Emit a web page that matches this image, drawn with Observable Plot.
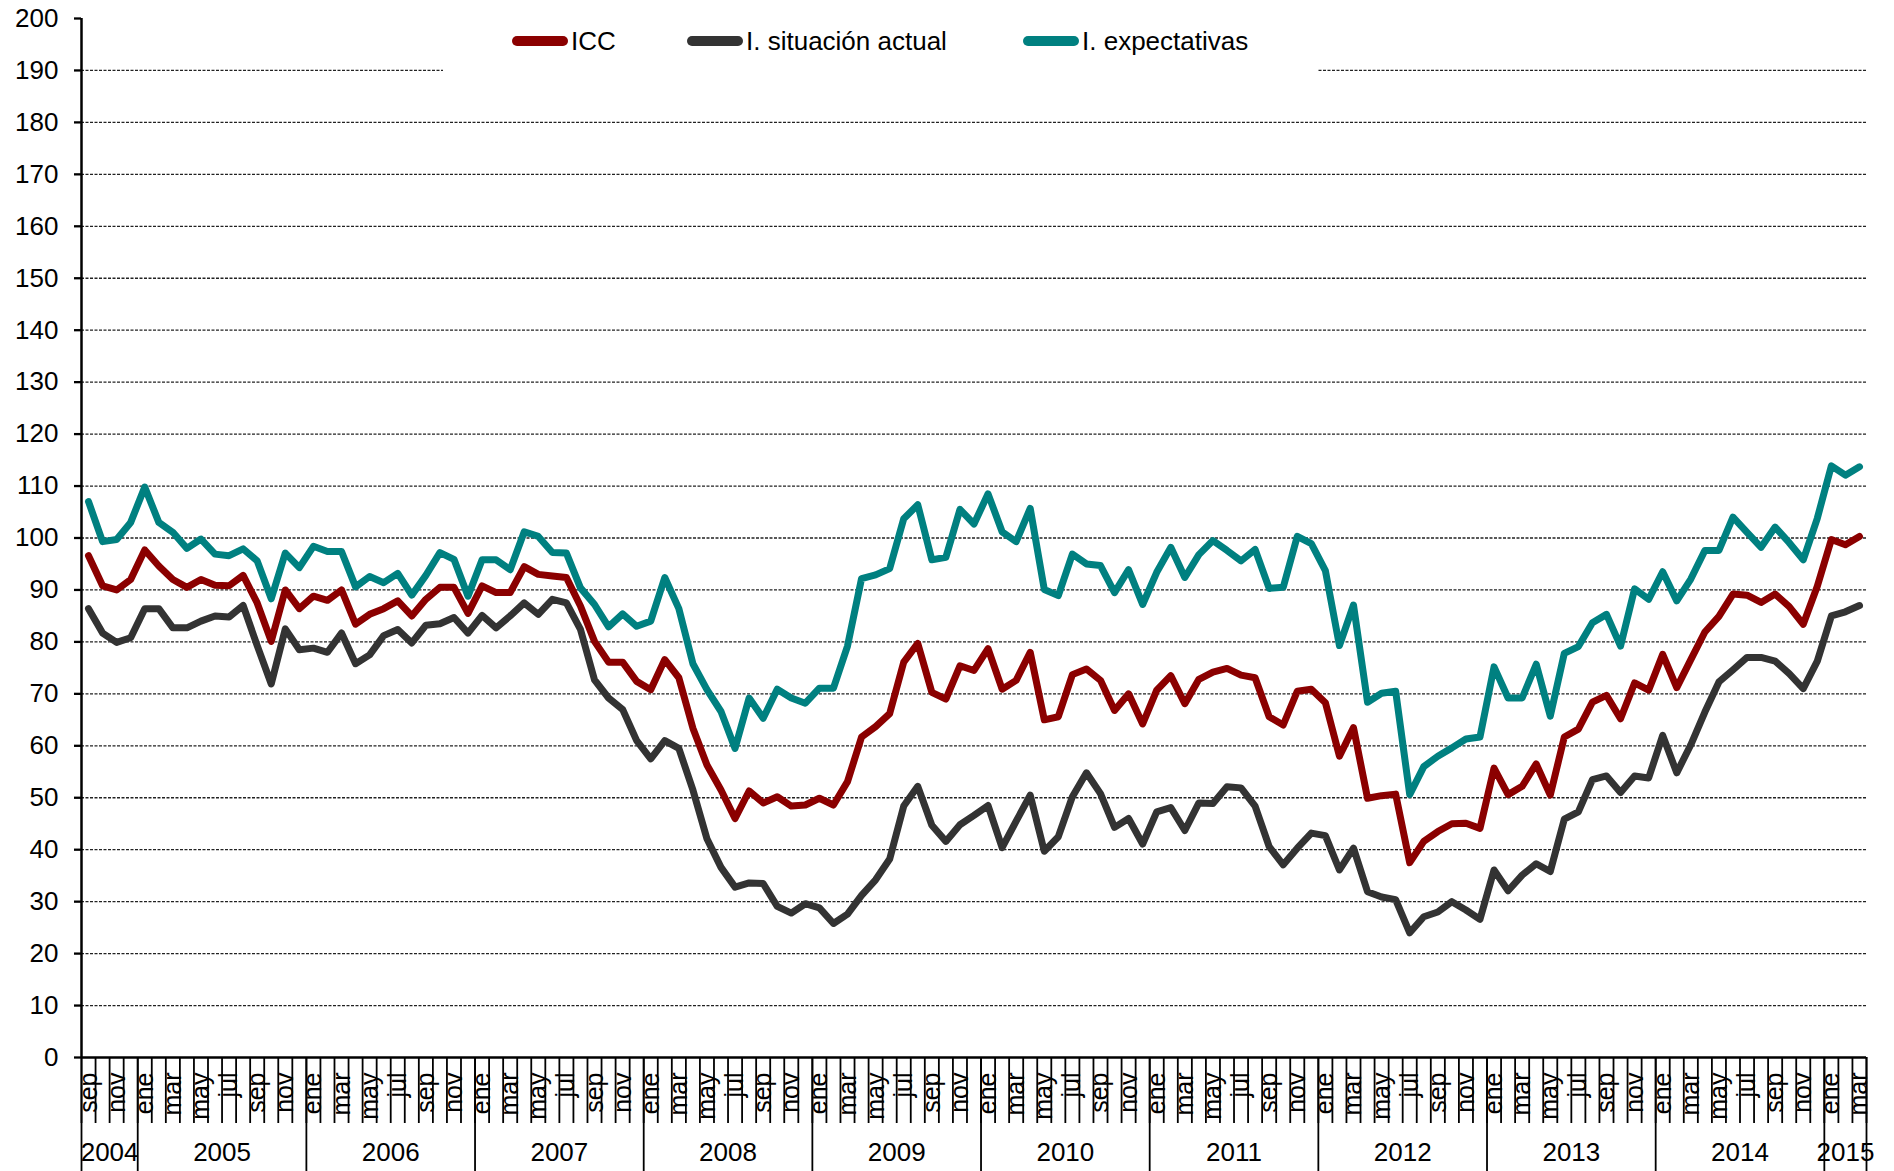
<!DOCTYPE html>
<html>
<head>
<meta charset="utf-8">
<script src="https://cdn.jsdelivr.net/npm/d3@7"></script>
<script src="https://cdn.jsdelivr.net/npm/@observablehq/plot@0.6"></script>
<style>
  body { margin: 0; background: #fff; }
  #wrap { position: relative; width: 1894px; height: 1171px; overflow: hidden; font-family: "Liberation Sans", Arial, sans-serif; }
  #legend { position: absolute; left: 443px; top: 8px; width: 874px; height: 70px; background: #fff; }
  .item { position: absolute; top: 18px; height: 30px; display: flex; align-items: center; font-size: 26px; color: #000; white-space: nowrap; }
  .sw { width: 56px; height: 10px; border-radius: 5px; margin-right: 3px; }
</style>
</head>
<body>
<div id="wrap">
  <div id="chart"></div>
  <div id="legend"></div>
</div>
<script>
// ---- Data ----
const mesesAbrev = ["ene","feb","mar","abr","may","jun","jul","ago","sep","oct","nov","dic"];
const anios = [2004,2005,2006,2007,2008,2009,2010,2011,2012,2013,2014,2015];
const yTicks = [0,10,20,30,40,50,60,70,80,90,100,110,120,130,140,150,160,170,180,190,200];

const seriesNames = ["ICC", "I. situación actual", "I. expectativas"];
const seriesColors = ["#8b0000", "#333333", "#008080"];

// sep 2004 ... mar 2015 (127 months)
const icc = [96.6,90.8,90,92,97.7,94.6,92,90.5,92,90.9,90.8,92.8,87.5,80.1,90,86.4,88.8,88,90,83.4,85.3,86.4,87.9,85,88.2,90.5,90.5,85.5,90.8,89.5,89.5,94.5,93,92.7,92.4,86.9,80.1,76.1,76.1,72.4,70.8,76.6,73.1,63.4,56.3,51.5,46,51.3,49,50.2,48.4,48.6,49.9,48.6,53.1,61.7,63.7,66.2,76.1,79.7,70.3,69,75.4,74.5,78.7,70.9,72.6,78,65,65.6,73.7,74.8,72.6,66.8,70,64.2,70.7,73.5,68.1,72.8,74.2,74.9,73.6,73.1,65.6,64,70.5,70.9,68.3,58,63.5,49.9,50.4,50.7,37.5,41.6,43.5,45,45.1,44.1,55.7,50.6,52.2,56.5,50.5,61.7,63.2,68.4,69.7,65.2,72.1,70.7,77.6,71.2,76.6,81.9,84.9,89.2,89,87.6,89.2,86.8,83.4,90.7,99.7,98.7,100.3];
const situacionActual = [86.4,81.7,79.9,80.8,86.4,86.4,82.7,82.7,84,85,84.8,87,79.3,71.9,82.5,78.5,78.8,78,81.7,75.8,77.5,81.2,82.4,79.8,83.2,83.5,84.7,81.7,85.1,82.7,85,87.5,85.3,88.2,87.5,82.4,72.7,69.2,67,61,57.5,61,59.5,51.5,42.1,36.6,32.8,33.6,33.5,29.1,27.8,29.6,28.8,25.8,27.6,31.2,34.2,38.2,48.4,52.2,44.7,41.6,44.8,46.6,48.5,40.4,45.5,50.5,39.7,42.5,50.2,54.8,50.8,44.3,46,41.1,47.3,48.1,43.7,49,48.9,52.1,51.9,48.4,40.6,37.1,40.3,43.2,42.7,36.1,40.3,31.9,30.9,30.4,24,27.1,28,30,28.4,26.6,36.1,32.1,35.1,37.3,35.8,45.9,47.3,53.5,54.2,51,54.2,53.8,62,54.8,60.2,66.5,72.3,74.6,77,77,76.3,73.9,71,76.3,85,85.8,87];
const expectativas = [107,99.3,99.7,103,109.8,103,101.1,98,99.8,96.9,96.6,97.9,95.6,88.3,97.1,94.3,98.4,97.4,97.4,90.6,92.6,91.4,93.2,89,92.8,97.2,95.9,88.8,95.8,95.8,93.9,101.2,100.3,97.2,97.1,90.4,87.2,82.9,85.4,83,84,92.4,86.4,75.8,70.8,66.6,59.5,69.2,65.3,70.9,69.2,68.2,71.1,71.1,79.2,92.2,92.9,94.1,103.7,106.4,95.8,96.3,105.5,102.7,108.5,101.2,99.3,105.7,90.1,88.9,96.9,95,94.7,89.5,93.9,87.2,93.4,98.2,92.4,96.8,99.5,97.6,95.6,97.8,90.3,90.5,100.3,98.9,93.7,79.3,87.1,68.4,70.1,70.5,50.6,56,58,59.6,61.3,61.7,75.2,69.2,69.2,75.7,65.7,77.8,79.1,83.7,85.3,79.2,90.2,88.2,93.5,87.9,92.1,97.6,97.6,104,101.1,98.2,102.1,99.1,95.8,103.8,113.9,112.1,113.7];

// ---- Categories ----
const categorias = [];
for (const y of anios) {
  for (let m = 0; m < 12; m++) {
    if (y === 2004 && m < 8) continue;
    if (y === 2015 && m > 2) continue;
    categorias.push({year: y, month: m, label: mesesAbrev[m]});
  }
}
const n = categorias.length; // 127

const valores = [icc, situacionActual, expectativas];
const rows = [];
valores.forEach((arr, s) => arr.forEach((v, i) => rows.push({i: i + 0.5, v, s: seriesNames[s]})));

// boundaries
const monthBounds = d3.range(0, n + 1);
const yearBounds = [0];
const yearCenters = [];
const yearLabel = new Map();
let start = 0;
for (let i = 1; i <= n; i++) {
  if (i === n || categorias[i].year !== categorias[i - 1].year) {
    yearBounds.push(i);
    const c = (start + i) / 2;
    yearCenters.push(c);
    yearLabel.set(c, String(categorias[start].year));
    start = i;
  }
}
const labelTicks = categorias.map((c, i) => i).filter(i => i % 2 === 0).map(i => i + 0.5);

const lineOpts = {x: "i", y: "v", strokeWidth: 7, strokeLinejoin: "round", strokeLinecap: "round"};

const chart = Plot.plot({
  width: 1894,
  height: 1171,
  marginLeft: 81,
  marginRight: 28,
  marginTop: 18,
  marginBottom: 114,
  style: {fontFamily: '"Liberation Sans", Arial, sans-serif', color: "#000", background: "#fff", overflow: "visible"},
  x: {type: "linear", domain: [0, n]},
  y: {domain: [0, 200]},
  marks: [
    Plot.ruleY(yTicks.filter(t => t > 0 && t < 200), {stroke: "#222", strokeWidth: 1.3, strokeDasharray: "3,1.5"}),
    Plot.axisY({ticks: yTicks, label: null, tickSize: 7, tickPadding: 16, fontSize: 26, strokeWidth: 2.3, tickFormat: d => String(d)}),
    Plot.axisX({ticks: monthBounds, label: null, tickSize: 66, tickFormat: () => "", strokeWidth: 1.8}),
    Plot.axisX({ticks: yearBounds, label: null, tickSize: 114, tickFormat: () => "", strokeWidth: 1.8}),
    Plot.axisX({ticks: labelTicks, label: null, tickSize: 0, tickPadding: 15, tickRotate: -90, fontSize: 25,
                tickFormat: d => categorias[Math.floor(d)].label}),
    Plot.axisX({ticks: yearCenters, label: null, tickSize: 0, tickPadding: 85, fontSize: 26,
                tickFormat: d => yearLabel.get(d)}),
    Plot.line(rows.filter(r => r.s === seriesNames[2]), {...lineOpts, stroke: seriesColors[2]}),
    Plot.line(rows.filter(r => r.s === seriesNames[1]), {...lineOpts, stroke: seriesColors[1]}),
    Plot.line(rows.filter(r => r.s === seriesNames[0]), {...lineOpts, stroke: seriesColors[0]}),
    Plot.ruleX([0], {stroke: "#000", strokeWidth: 2.5}),
    Plot.ruleY([0], {stroke: "#000", strokeWidth: 2.5})
  ]
});
document.getElementById("chart").appendChild(chart);

// ---- Legend ----
const legendLefts = [69, 244, 580];
const legend = document.getElementById("legend");
seriesNames.forEach((name, k) => {
  const item = document.createElement("div");
  item.className = "item";
  item.style.left = legendLefts[k] + "px";
  const sw = document.createElement("div");
  sw.className = "sw";
  sw.style.background = seriesColors[k];
  const tx = document.createElement("span");
  tx.textContent = name;
  item.appendChild(sw);
  item.appendChild(tx);
  legend.appendChild(item);
});
</script>
</body>
</html>
